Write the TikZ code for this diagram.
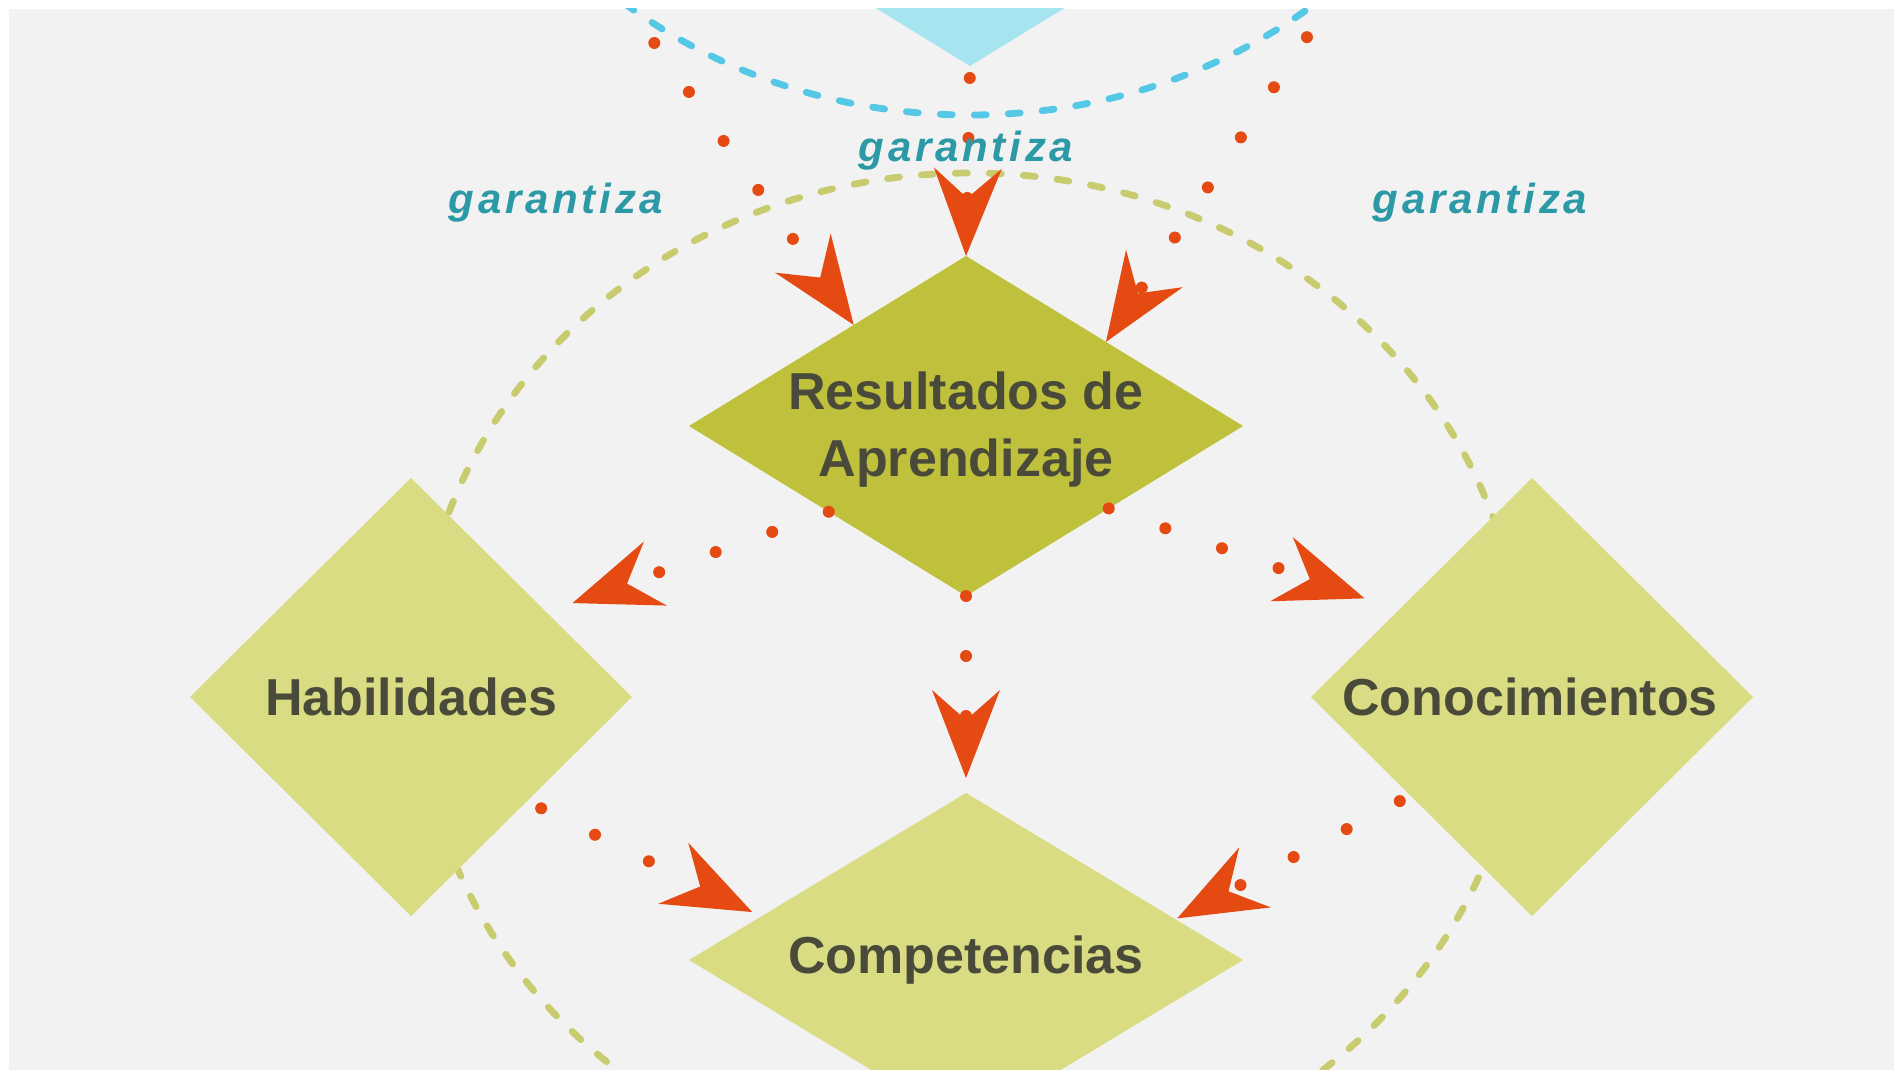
\documentclass[tikz,border=0pt]{standalone}
\usepackage{fontspec}
\setmainfont{Liberation Sans}
\usetikzlibrary{shapes.geometric,arrows.meta}
\definecolor{bgc}{HTML}{F2F2F2}
\definecolor{olivef}{HTML}{BFC03C}
\definecolor{lolivef}{HTML}{D9DC82}
\definecolor{cyanfill}{HTML}{A6E4F0}
\definecolor{cyandash}{HTML}{55C8E6}
\definecolor{greendash}{HTML}{C8CC6E}
\definecolor{redc}{HTML}{E44A12}
\definecolor{tealtxt}{HTML}{2B9AA6}
\definecolor{txtc}{HTML}{4A4A3A}
\begin{document}
\begin{tikzpicture}[x=0.5pt,y=-0.5pt,
  dia/.style={shape=diamond, draw=none, inner sep=0pt, outer sep=0pt},
  bigdia/.style={dia, minimum width=277pt, minimum height=170pt},
  sidedia/.style={dia, fill=lolivef, minimum width=221pt, minimum height=219pt},
  lbl/.style={text=txtc, font=\bfseries\fontsize{26}{33.5}\selectfont, align=center, inner sep=0pt},
  gar/.style={text=tealtxt, font=\bfseries\itshape\fontsize{21}{24}\selectfont\addfontfeature{LetterSpace=9}, inner sep=0pt},
  ring/.style={line width=3.4pt, line cap=round, dash pattern=on 6pt off 11pt},
  conn/.style={draw=redc, line width=6pt, line cap=round, dash pattern=on 0pt off 30pt,
    -{Stealth[length=44pt,width=34pt,inset=15pt,line width=0pt]}}
]
\useasboundingbox (0,0) rectangle (1894,1070);
\fill[white] (0,0) rectangle (1894,1070);
\begin{scope}
\clip (9,9) rectangle (1894,1070);
\fill[bgc] (9,9) rectangle (1894,1070);

% decorative dashed rings
\draw[ring, greendash] (970,680) ellipse [x radius=552, y radius=507];
\draw[ring, cyandash] (970,-392) ellipse [x radius=552, y radius=507];

% diamonds
\node[bigdia, fill=cyanfill] (topd) at (970,-104) {};
\node[bigdia, fill=olivef] (res) at (966,426) {};
\node[sidedia] (hab) at (411,697) {};
\node[sidedia] (con) at (1532,697) {};
\node[dia, fill=lolivef, minimum width=277pt, minimum height=167pt] (comp) at (966,960) {};

% texts
\node[lbl] (tres) at (966,430) {Resultados de\\Aprendizaje};
\node[lbl] (thab) at (411,697) {Habilidades};
\node[lbl] (tcon) at (1530,697) {Conocimientos};
\node[lbl] (tcomp) at (966,960) {Competencias};

% off-picture sources
\coordinate (srcL) at (585,-55);
\coordinate (srcR) at (1373,-63);

% connectors
\draw[conn, shorten <=6pt] (topd.south) -- (res.north);
\draw[conn] (srcL) -- (res.138.2);
\draw[conn] (srcR) -- (res.31.1);
\draw[conn, shorten >=13.75pt] (res.212.8) -- (hab.32.75);
\draw[conn, shorten >=18pt] (res.-30.6) -- (con.147.5);
\draw[conn, shorten >=7.5pt] (res.south) -- (comp.north);
\draw[conn, shorten <=8pt, shorten >=5pt] (hab.-42.6) -- (comp.168.8);
\draw[conn, shorten <=6pt, shorten >=1pt] (con.219.9) -- (comp.11.5);

% labels
\node[gar] (g1) at (966,151) {garantiza};
\node[gar] (g2) at (556,203) {garantiza};
\node[gar] (g3) at (1480,203) {garantiza};
\end{scope}
\end{tikzpicture}
\end{document}
